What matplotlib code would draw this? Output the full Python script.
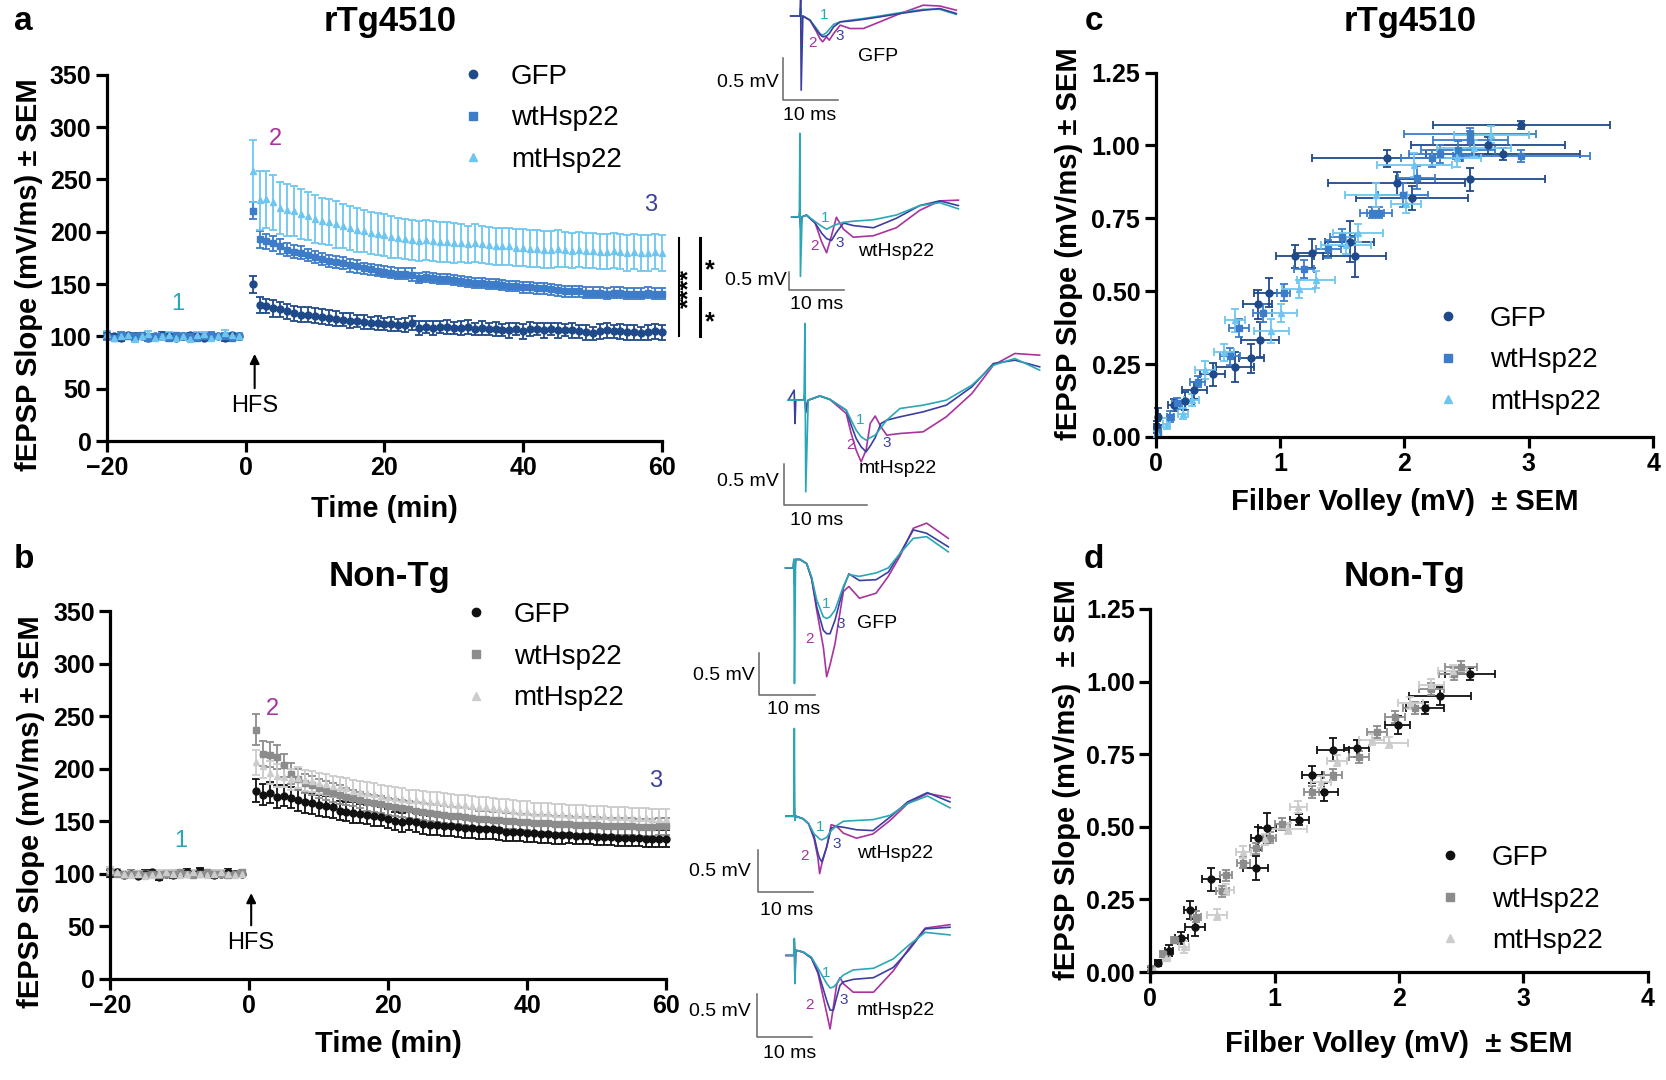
import matplotlib
matplotlib.use("Agg")
import matplotlib.pyplot as plt
from matplotlib.lines import Line2D
import numpy as np

plt.rcParams['font.family'] = ['Liberation Sans', 'DejaVu Sans']

# ---------------- DATA ----------------
groups = ["GFP", "wtHsp22", "mtHsp22"]
base_t = list(range(-20, 0))
post_t = list(range(1, 61))

# rTg4510 LTP
rtg_gfp_base = [101, 100, 99, 101, 100, 100, 99, 100, 101, 100, 99, 100, 101, 100, 99, 100, 100, 99, 101, 100]
rtg_wt_base = [100, 99, 101, 100, 100, 101, 99, 100, 100, 99, 101, 100, 100, 99, 100, 101, 100, 100, 99, 100]
rtg_mt_base = [102, 99, 100, 101, 98, 100, 102, 99, 100, 101, 99, 100, 98, 101, 102, 99, 100, 103, 101, 100]
rtg_base_err = [3, 2, 3, 2, 3, 2, 3, 2, 3, 3, 2, 3, 2, 3, 2, 3, 2, 3, 2, 3]

rtg_gfp_post = [150, 130, 129, 127, 126, 124, 122, 121, 121, 120,
                119, 118, 117, 116, 115, 115, 114, 113, 113, 112,
                112, 111, 111, 113, 108, 109, 108, 109, 109, 108,
                108, 109, 107, 108, 107, 107, 106, 106, 107, 105,
                107, 107, 106, 107, 106, 106, 106, 105, 104, 103,
                105, 106, 105, 105, 104, 104, 103, 104, 105, 104]
rtg_gfp_err = [8, 8, 7, 8, 7, 7, 7, 7, 7, 7,
               7, 7, 7, 6, 7, 6, 7, 6, 7, 6,
               7, 6, 7, 7, 7, 6, 7, 6, 7, 6,
               7, 7, 6, 7, 6, 7, 6, 7, 6, 7,
               7, 6, 7, 6, 7, 6, 7, 6, 7, 6,
               7, 7, 6, 7, 7, 7, 6, 7, 7, 7]
rtg_wt_post = [220, 193, 191, 189, 186, 183, 181, 180, 178, 176,
               174, 172, 171, 170, 168, 167, 165, 164, 163, 162,
               161, 160, 160, 159, 156, 157, 156, 155, 155, 154,
               153, 152, 151, 151, 150, 150, 149, 148, 148, 147,
               147, 146, 146, 145, 144, 143, 143, 143, 142, 142,
               142, 141, 142, 142, 141, 141, 141, 142, 141, 141]
rtg_wt_err = [8, 8, 7, 7, 7, 6, 6, 6, 6, 6,
              6, 6, 6, 6, 6, 6, 5, 5, 5, 5,
              5, 5, 5, 6, 5, 5, 5, 5, 5, 5,
              5, 5, 5, 5, 5, 5, 5, 5, 5, 5,
              5, 5, 5, 5, 5, 5, 5, 5, 5, 5,
              5, 5, 5, 5, 5, 5, 5, 5, 5, 5]
rtg_mt_post = [258, 230, 231, 228, 223, 221, 220, 217, 215, 212,
               210, 209, 207, 206, 204, 202, 201, 199, 198, 197,
               195, 194, 193, 192, 191, 192, 191, 190, 190, 189,
               189, 188, 189, 188, 187, 186, 186, 186, 185, 185,
               184, 184, 183, 183, 184, 183, 182, 183, 182, 182,
               181, 181, 182, 181, 180, 181, 180, 180, 181, 180]
rtg_mt_err = [30, 28, 27, 26, 25, 25, 24, 24, 23, 23,
              22, 22, 22, 21, 21, 21, 20, 20, 20, 20,
              20, 19, 19, 19, 19, 19, 19, 19, 19, 19,
              18, 18, 18, 18, 18, 18, 18, 18, 18, 18,
              18, 18, 18, 18, 18, 17, 17, 17, 17, 17,
              17, 17, 17, 17, 17, 17, 17, 17, 17, 17]

# Non-Tg LTP
nt_gfp_base = [100, 101, 99, 100, 98, 100, 101, 97, 100, 99, 100, 101, 100, 102, 100, 99, 100, 101, 100, 100]
nt_wt_base = [101, 100, 99, 100, 100, 99, 100, 99, 100, 100, 101, 100, 99, 100, 101, 100, 100, 99, 100, 101]
nt_mt_base = [103, 101, 100, 99, 100, 98, 99, 100, 101, 100, 99, 100, 101, 100, 99, 100, 101, 100, 99, 100]
nt_base_err = [3, 3, 2, 3, 2, 3, 2, 3, 2, 3, 2, 3, 2, 3, 2, 3, 2, 3, 2, 2]

nt_gfp_post = [179, 175, 177, 173, 174, 172, 170, 168, 167, 165,
               164, 163, 160, 159, 158, 157, 156, 155, 154, 152,
               150, 149, 150, 149, 147, 146, 146, 145, 145, 144,
               143, 143, 142, 142, 142, 141, 140, 140, 140, 139,
               139, 138, 138, 137, 137, 137, 136, 136, 136, 135,
               135, 135, 134, 134, 134, 134, 133, 133, 133, 133]
nt_gfp_err = [11, 10, 10, 11, 10, 10, 10, 10, 10, 10,
              10, 10, 9, 9, 10, 9, 9, 10, 9, 9,
              9, 9, 9, 9, 9, 9, 9, 9, 9, 9,
              9, 9, 9, 9, 9, 9, 9, 9, 9, 9,
              9, 9, 9, 9, 9, 8, 8, 8, 8, 8,
              8, 8, 8, 8, 8, 8, 8, 8, 8, 8]
nt_wt_post = [237, 214, 213, 211, 203, 195, 190, 186, 184, 181,
              179, 177, 175, 173, 172, 170, 168, 167, 166, 164,
              163, 162, 161, 160, 159, 158, 157, 156, 155, 155,
              154, 153, 152, 152, 151, 151, 150, 150, 149, 149,
              148, 148, 148, 147, 147, 147, 146, 146, 146, 146,
              145, 145, 145, 145, 145, 144, 144, 144, 145, 145]
nt_wt_err = [15, 12, 12, 11, 11, 10, 10, 9, 9, 9,
             9, 9, 9, 8, 8, 8, 8, 8, 8, 8,
             8, 8, 8, 8, 8, 8, 8, 8, 8, 8,
             8, 8, 8, 8, 8, 8, 8, 8, 8, 8,
             8, 8, 8, 8, 8, 8, 8, 8, 8, 8,
             8, 8, 8, 8, 8, 8, 8, 8, 8, 8]
nt_mt_post = [206, 202, 196, 193, 192, 190, 191, 189, 188, 186,
              185, 183, 182, 181, 179, 178, 177, 176, 174, 173,
              172, 171, 170, 170, 169, 168, 168, 167, 166, 165,
              165, 164, 163, 163, 162, 161, 161, 160, 159, 159,
              158, 158, 158, 157, 157, 156, 156, 156, 155, 155,
              155, 154, 154, 154, 153, 153, 153, 152, 152, 152]
nt_mt_err = [12, 11, 11, 11, 10, 10, 10, 10, 10, 10,
             10, 10, 10, 10, 10, 10, 10, 10, 10, 10,
             10, 10, 10, 10, 10, 10, 10, 10, 10, 10,
             10, 10, 10, 10, 10, 10, 10, 10, 10, 10,
             9, 9, 9, 9, 9, 9, 9, 9, 9, 9,
             9, 9, 9, 9, 9, 9, 9, 9, 9, 9]

# Input/output: rTg4510
c_gfp_x = [2.94, 2.53, 1.86, 2.67, 2.79, 1.94, 2.06, 1.6, 1.56, 1.26, 1.12, 0.91, 0.82, 0.84, 0.77, 0.64, 0.46, 0.31, 0.24, 0.15, 0.02, 0.01]
c_gfp_y = [1.07, 0.884, 0.956, 1.0, 0.97, 0.87, 0.82, 0.62, 0.67, 0.63, 0.62, 0.495, 0.455, 0.334, 0.27, 0.24, 0.215, 0.16, 0.123, 0.11, 0.07, 0.035]
c_gfp_xe = [0.71, 0.6, 0.6, 0.62, 0.62, 0.55, 0.45, 0.25, 0.2, 0.15, 0.15, 0.12, 0.12, 0.15, 0.1, 0.15, 0.1, 0.1, 0.07, 0.05, 0.02, 0.02]
c_gfp_ye = [0.015, 0.04, 0.03, 0.03, 0.02, 0.04, 0.04, 0.07, 0.07, 0.05, 0.04, 0.05, 0.05, 0.06, 0.05, 0.05, 0.04, 0.03, 0.03, 0.02, 0.03, 0.02]
c_wt_x = [2.94, 2.53, 2.53, 2.43, 2.29, 2.22, 1.99, 2.1, 1.8, 1.74, 1.5, 1.39, 1.19, 1.03, 0.86, 0.67, 0.6, 0.34, 0.17, 0.12, 0.02]
c_wt_y = [0.965, 1.04, 1.02, 0.985, 0.97, 0.956, 0.83, 0.89, 0.77, 0.77, 0.685, 0.645, 0.576, 0.495, 0.426, 0.374, 0.276, 0.19, 0.115, 0.07, 0.017]
c_wt_xe = [0.55, 0.53, 0.3, 0.3, 0.25, 0.25, 0.2, 0.15, 0.1, 0.1, 0.1, 0.1, 0.08, 0.05, 0.08, 0.08, 0.08, 0.06, 0.04, 0.03, 0.01]
c_wt_ye = [0.02, 0.02, 0.03, 0.03, 0.03, 0.03, 0.04, 0.04, 0.02, 0.02, 0.03, 0.03, 0.03, 0.03, 0.03, 0.03, 0.03, 0.02, 0.02, 0.02, 0.01]
c_mt_x = [2.7, 2.56, 2.42, 2.08, 2.01, 1.77, 1.63, 1.53, 1.29, 1.15, 1.01, 0.93, 0.64, 0.55, 0.4, 0.29, 0.22, 0.09, 0.01]
c_mt_y = [1.037, 0.99, 0.956, 0.933, 0.80, 0.83, 0.70, 0.657, 0.54, 0.507, 0.426, 0.363, 0.40, 0.29, 0.23, 0.127, 0.08, 0.046, 0.01]
c_mt_xe = [0.3, 0.3, 0.2, 0.3, 0.12, 0.25, 0.2, 0.2, 0.15, 0.13, 0.13, 0.14, 0.08, 0.08, 0.08, 0.06, 0.04, 0.03, 0.01]
c_mt_ye = [0.03, 0.03, 0.03, 0.04, 0.03, 0.04, 0.03, 0.03, 0.03, 0.03, 0.03, 0.04, 0.04, 0.03, 0.03, 0.02, 0.02, 0.02, 0.01]

# Input/output: Non-Tg
d_gfp_x = [2.57, 2.33, 2.21, 1.99, 1.66, 1.47, 1.4, 1.3, 1.2, 0.94, 0.87, 0.85, 0.49, 0.32, 0.36, 0.25, 0.15, 0.06, 0.01]
d_gfp_y = [1.025, 0.95, 0.91, 0.85, 0.77, 0.765, 0.62, 0.68, 0.525, 0.496, 0.46, 0.358, 0.32, 0.213, 0.154, 0.117, 0.074, 0.03, 0.006]
d_gfp_xe = [0.2, 0.25, 0.15, 0.1, 0.1, 0.13, 0.11, 0.08, 0.08, 0.07, 0.06, 0.1, 0.07, 0.05, 0.08, 0.05, 0.03, 0.02, 0.01]
d_gfp_ye = [0.02, 0.03, 0.02, 0.03, 0.03, 0.04, 0.03, 0.03, 0.02, 0.05, 0.04, 0.04, 0.04, 0.03, 0.03, 0.02, 0.02, 0.01, 0.01]
d_wt_x = [2.5, 2.44, 2.26, 2.13, 1.97, 1.82, 1.68, 1.47, 1.3, 1.06, 0.96, 0.85, 0.75, 0.61, 0.58, 0.37, 0.2, 0.1, 0.01]
d_wt_y = [1.05, 1.025, 0.975, 0.91, 0.877, 0.827, 0.74, 0.68, 0.62, 0.51, 0.463, 0.426, 0.377, 0.333, 0.278, 0.191, 0.111, 0.062, 0.012]
d_wt_xe = [0.13, 0.12, 0.1, 0.1, 0.08, 0.08, 0.08, 0.07, 0.06, 0.06, 0.05, 0.05, 0.05, 0.05, 0.05, 0.04, 0.03, 0.02, 0.01]
d_wt_ye = [0.02, 0.02, 0.02, 0.02, 0.02, 0.02, 0.02, 0.02, 0.02, 0.02, 0.02, 0.02, 0.02, 0.02, 0.02, 0.02, 0.01, 0.01, 0.01]
d_mt_x = [2.43, 2.26, 2.09, 1.92, 1.78, 1.5, 1.37, 1.19, 1.11, 0.92, 0.75, 0.61, 0.54, 0.27, 0.13, 0.03]
d_mt_y = [1.037, 0.988, 0.926, 0.79, 0.8, 0.728, 0.654, 0.568, 0.494, 0.457, 0.414, 0.284, 0.198, 0.086, 0.05, 0.006]
d_mt_xe = [0.12, 0.1, 0.1, 0.15, 0.1, 0.08, 0.08, 0.07, 0.15, 0.06, 0.06, 0.06, 0.08, 0.04, 0.03, 0.01]
d_mt_ye = [0.02, 0.02, 0.02, 0.02, 0.02, 0.02, 0.02, 0.02, 0.02, 0.02, 0.02, 0.02, 0.02, 0.02, 0.01, 0.01]

# Example fEPSP traces (time in ms, voltage in mV); 1 = baseline, 2 = post-HFS, 3 = 60 min
tr1_t = [-1.8, -0.1, 0.0, 0.1, 0.4, 1.7, 2.9, 3.5, 4.0, 4.7, 5.2, 6.0, 7.2, 9.0, 11.4, 14.4, 18.1, 22.3, 25.3, 28.3]
tr1_v1 = [0, 0, 0.1, -0.1, 0, -0.05, -0.15, -0.21, -0.23, -0.2, -0.16, -0.1, -0.07, -0.05, -0.03, 0.0, 0.04, 0.08, 0.08, 0.02]
tr1_v2 = [0, 0, 0.05, -0.05, 0, -0.05, -0.19, -0.27, -0.31, -0.25, -0.29, -0.21, -0.11, -0.15, -0.15, -0.07, 0.03, 0.13, 0.12, 0.07]
tr1_v3 = [0, 0, 0.2, -0.89, 0, -0.05, -0.17, -0.22, -0.25, -0.24, -0.21, -0.13, -0.07, -0.06, -0.04, -0.01, 0.03, 0.07, 0.09, 0.03]

tr2_t = [-1.5, -0.1, 0.0, 0.1, 0.4, 1.2, 2.8, 4.0, 4.9, 5.8, 6.7, 8.0, 9.8, 13.5, 17.7, 22.0, 25.7, 29.1]
tr2_v1 = [0, 0, 2.3, -1.64, 0, 0.05, -0.13, -0.26, -0.34, -0.27, -0.21, -0.15, -0.12, -0.08, 0.05, 0.31, 0.39, 0.22]
tr2_v2 = [0, 0, 0.1, -0.2, 0, 0.05, -0.17, -0.69, -0.99, -0.52, -0.01, -0.34, -0.56, -0.52, -0.3, 0.18, 0.44, 0.46]
tr2_v3 = [0, 0, 0.2, -0.3, 0, 0.05, -0.17, -0.45, -0.6, -0.65, -0.43, -0.17, -0.24, -0.30, -0.04, 0.31, 0.44, 0.31]

tr3_t = [-2.0, -1.3, -1.2, -1.1, -0.1, 0.0, 0.1, 0.4, 1.8, 3.0, 5.0, 5.6, 6.2, 6.8, 7.4, 7.9, 8.5, 9.2, 9.9, 11.5, 14.3, 17.1, 20.2, 22.8, 25.4, 28.4]
tr3_v1 = [0, 0, 0, 0, 0, 0.92, -1.1, 0, 0.05, 0.01, -0.12, -0.24, -0.36, -0.44, -0.48, -0.45, -0.42, -0.33, -0.24, -0.1, -0.06, 0.0, 0.18, 0.42, 0.5, 0.36]
tr3_v2 = [0, 0, 0, 0, 0, 0.05, -0.1, 0, 0.05, 0.01, -0.16, -0.4, -0.6, -0.74, -0.6, -0.28, -0.19, -0.32, -0.42, -0.4, -0.38, -0.2, 0.08, 0.42, 0.56, 0.54]
tr3_v3 = [0, 0.12, -0.28, 0, 0, 0.1, -0.15, 0, 0.05, 0.01, -0.12, -0.3, -0.46, -0.56, -0.62, -0.55, -0.45, -0.28, -0.24, -0.2, -0.14, -0.06, 0.16, 0.44, 0.48, 0.4]

tr4_t = [-1.5, -0.1, 0.0, 0.1, 0.3, 1.1, 2.3, 3.2, 4.1, 5.3, 5.9, 6.5, 7.4, 8.9, 9.9, 11.8, 14.8, 17.0, 19.1, 21.5, 23.9, 27.8]
tr4_v1 = [-0.1, -0.1, 0, -1.47, 0, 0, -0.05, -0.21, -0.48, -0.68, -0.7, -0.68, -0.6, -0.32, -0.18, -0.2, -0.16, -0.1, 0.07, 0.25, 0.27, 0.09]
tr4_v2 = [-0.1, -0.1, 0, -0.2, 0, 0, -0.05, -0.23, -0.6, -1.04, -1.39, -1.25, -1.0, -0.38, -0.32, -0.46, -0.4, -0.2, 0.04, 0.37, 0.43, 0.25]
tr4_v3 = [-0.1, -0.1, 0, -0.3, 0, 0, -0.05, -0.23, -0.56, -0.84, -0.88, -0.88, -0.72, -0.34, -0.17, -0.25, -0.24, -0.15, 0.07, 0.35, 0.31, 0.15]

tr5_t = [-1.5, -0.1, 0.0, 0.1, 0.3, 1.6, 2.6, 3.6, 4.3, 4.6, 5.0, 5.9, 6.7, 7.7, 8.9, 11.3, 14.3, 17.4, 20.6, 24.2, 28.3]
tr5_v1 = [0, 0, 1.04, -0.05, 0, -0.03, -0.09, -0.21, -0.25, -0.27, -0.28, -0.25, -0.17, -0.11, -0.06, -0.05, -0.04, 0.01, 0.15, 0.24, 0.1]
tr5_v2 = [0, 0, 0.05, -0.03, 0, -0.03, -0.09, -0.27, -0.5, -0.68, -0.56, -0.36, -0.1, -0.12, -0.2, -0.26, -0.21, -0.05, 0.15, 0.27, 0.22]
tr5_v3 = [0, 0, 0.1, -0.03, 0, -0.03, -0.09, -0.24, -0.44, -0.5, -0.54, -0.36, -0.14, -0.12, -0.13, -0.16, -0.17, -0.01, 0.17, 0.28, 0.17]

tr6_t = [-1.5, -0.1, 0.0, 0.1, 0.3, 1.6, 3.1, 4.3, 5.9, 6.5, 7.1, 7.7, 8.3, 8.9, 10.7, 14.4, 18.0, 20.8, 23.8, 28.3]
tr6_v1 = [-0.06, -0.06, 0.14, -0.39, 0, -0.02, -0.08, -0.21, -0.39, -0.44, -0.43, -0.39, -0.33, -0.29, -0.23, -0.21, -0.1, 0.06, 0.21, 0.18]
tr6_v2 = [-0.06, -0.06, 0.05, -0.3, 0, -0.02, -0.09, -0.27, -0.74, -0.92, -0.66, -0.4, -0.32, -0.39, -0.49, -0.49, -0.24, 0.02, 0.26, 0.3]
tr6_v3 = [-0.06, -0.06, 0.1, -0.1, 0, -0.02, -0.09, -0.25, -0.59, -0.7, -0.7, -0.55, -0.41, -0.37, -0.34, -0.32, -0.2, 0.0, 0.25, 0.27]

# ---------------- STYLE ----------------
W, H = 1560.0, 1011.0   # layout units
rtg_colors = ['#1f4a8a', '#3d7cc9', '#6ec6f0']
nt_colors = ['#111111', '#8c8c8c', '#cccccc']
markers = ['o', 's', '^']
C1, C2, C3 = '#2aa7b5', '#a8329f', '#3b3f9e'

fig = plt.figure(figsize=(16.66, 10.8), dpi=100)


def fbox(x0, y0, x1, y1):
    return [x0 / W, 1 - y1 / H, (x1 - x0) / W, (y1 - y0) / H]


def ftext(x, y, s, **kw):
    fig.text(x / W, 1 - y / H, s, **kw)


def style(ax):
    for s in ['top', 'right']:
        ax.spines[s].set_visible(False)
    for s in ['left', 'bottom']:
        ax.spines[s].set_linewidth(2.3)
    ax.tick_params(width=2.3, length=8, labelsize=18, pad=3, direction='out')
    for lbl in ax.get_xticklabels() + ax.get_yticklabels():
        lbl.set_fontweight('bold')


def ltp_panel(ax, series, colors, ylab_xy, xlab_y):
    for (b, be, p, pe), col, mk in zip(series, colors, markers):
        ax.errorbar(base_t + post_t, b + p, yerr=be + pe, fmt=mk, color=col,
                    ms=5, capsize=3, elinewidth=1.3, capthick=1.3, clip_on=False)
    ax.set_xlim(-20, 60)
    ax.set_ylim(0, 350)
    ax.set_xticks([-20, 0, 20, 40, 60])
    ax.set_yticks(range(0, 351, 50))
    style(ax)
    ax.set_ylabel('fEPSP Slope (mV/ms) ± SEM', fontsize=21, fontweight='bold')
    ax.yaxis.set_label_coords(*ylab_xy)
    ax.set_xlabel('Time (min)', fontsize=21, fontweight='bold')
    ax.xaxis.set_label_coords(0.5, xlab_y)


def io_panel(ax, series, colors, ylabel, ylab_xy, xlab_y):
    for (x, y, xe, ye), col, mk in zip(series, colors, markers):
        ax.errorbar(x, y, xerr=xe, yerr=ye, fmt=mk, color=col, ms=5,
                    capsize=3, elinewidth=1.3, capthick=1.3, clip_on=False)
    ax.set_xlim(0, 4)
    ax.set_ylim(0, 1.25)
    ax.set_xticks([0, 1, 2, 3, 4])
    ax.set_yticks([0, 0.25, 0.5, 0.75, 1.0, 1.25])
    ax.set_yticklabels(['0.00', '0.25', '0.50', '0.75', '1.00', '1.25'])
    style(ax)
    ax.set_ylabel(ylabel, fontsize=21, fontweight='bold')
    ax.yaxis.set_label_coords(*ylab_xy)
    ax.set_xlabel('Filber Volley (mV)  ± SEM', fontsize=21, fontweight='bold')
    ax.xaxis.set_label_coords(0.5, xlab_y)


def legend(ax, colors, anchor, pad):
    handles = [Line2D([], [], linestyle='none', marker=m, color=c, ms=6)
               for m, c in zip(markers, colors)]
    ax.legend(handles, groups, loc='upper left', bbox_to_anchor=anchor, frameon=False,
              fontsize=20, handlelength=1.0, handletextpad=pad, labelspacing=0.56,
              borderpad=0, borderaxespad=0)


# ---------------- PANEL a ----------------
ax_a = fig.add_axes(fbox(100, 70, 620, 413))
ltp_panel(ax_a, [(rtg_gfp_base, rtg_base_err, rtg_gfp_post, rtg_gfp_err),
                 (rtg_wt_base, rtg_base_err, rtg_wt_post, rtg_wt_err),
                 (rtg_mt_base, rtg_base_err, rtg_mt_post, rtg_mt_err)],
          rtg_colors, (-0.115, 0.455), -0.148)
legend(ax_a, rtg_colors, (0.635, 1.03), 0.85)
ax_a.text(-9.7, 131, '1', color=C1, fontsize=17, ha='center', va='center')
ax_a.text(4.3, 289, '2', color=C2, fontsize=17, ha='center', va='center')
ax_a.text(58.3, 226, '3', color=C3, fontsize=17, ha='center', va='center')
ax_a.annotate('', xy=(1.3, 86), xytext=(1.3, 48),
              arrowprops=dict(arrowstyle='-|>', color='black', lw=1.5, mutation_scale=14))
ax_a.text(1.3, 34, 'HFS', fontsize=17, ha='center', va='center')
# significance brackets
ax_a.plot([62.5, 62.5], [100, 194], color='black', lw=1.5, clip_on=False)
ax_a.plot([65.4, 65.4], [146, 194], color='black', lw=2.2, clip_on=False)
ax_a.plot([65.4, 65.4], [100, 137], color='black', lw=2.2, clip_on=False)
ax_a.text(63.9, 146, '****', rotation=90, fontsize=18, fontweight='bold', ha='center', va='center')
ax_a.text(66.8, 163, '*', fontsize=18, fontweight='bold', ha='center', va='center')
ax_a.text(66.8, 114, '*', fontsize=18, fontweight='bold', ha='center', va='center')

# ---------------- PANEL b ----------------
ax_b = fig.add_axes(fbox(103, 572, 624, 916))
ltp_panel(ax_b, [(nt_gfp_base, nt_base_err, nt_gfp_post, nt_gfp_err),
                 (nt_wt_base, nt_base_err, nt_wt_post, nt_wt_err),
                 (nt_mt_base, nt_base_err, nt_mt_post, nt_mt_err)],
          nt_colors, (-0.117, 0.453), -0.14)
legend(ax_b, nt_colors, (0.633, 1.024), 0.85)
ax_b.text(-9.8, 131, '1', color=C1, fontsize=17, ha='center', va='center')
ax_b.text(3.4, 257, '2', color=C2, fontsize=17, ha='center', va='center')
ax_b.text(58.4, 188, '3', color=C3, fontsize=17, ha='center', va='center')
ax_b.annotate('', xy=(0.3, 84), xytext=(0.3, 48),
              arrowprops=dict(arrowstyle='-|>', color='black', lw=1.5, mutation_scale=14))
ax_b.text(0.3, 34, 'HFS', fontsize=17, ha='center', va='center')

# ---------------- PANEL c ----------------
ax_c = fig.add_axes(fbox(1082, 68, 1548, 409))
io_panel(ax_c, [(c_gfp_x, c_gfp_y, c_gfp_xe, c_gfp_ye),
                (c_wt_x, c_wt_y, c_wt_xe, c_wt_ye),
                (c_mt_x, c_mt_y, c_mt_xe, c_mt_ye)],
         rtg_colors, 'fEPSP Slope (mV/ms) ± SEM', (-0.145, 0.53), -0.14)
legend(ax_c, rtg_colors, (0.56, 0.36), 1.0)

# ---------------- PANEL d ----------------
ax_d = fig.add_axes(fbox(1077, 570, 1543, 910))
io_panel(ax_d, [(d_gfp_x, d_gfp_y, d_gfp_xe, d_gfp_ye),
                (d_wt_x, d_wt_y, d_wt_xe, d_wt_ye),
                (d_mt_x, d_mt_y, d_mt_xe, d_mt_ye)],
         nt_colors, 'fEPSP Slope (mV/ms)  ± SEM', (-0.14, 0.53), -0.16)
legend(ax_d, nt_colors, (0.575, 0.35), 1.0)

# ---------------- titles / panel letters ----------------
for x, y, s in [(365, 20, 'rTg4510'), (365, 540, 'Non-Tg'), (1320, 20, 'rTg4510'), (1315, 540, 'Non-Tg')]:
    ftext(x, y, s, fontsize=25, fontweight='bold', ha='center', va='center')
for x, y, s in [(22, 20, 'a'), (22, 524, 'b'), (1024, 20, 'c'), (1024, 524, 'd')]:
    ftext(x, y, s, fontsize=24, fontweight='bold', ha='center', va='center')


# ---------------- TRACES ----------------
def trace_panel(t, v1, v2, v3, stim_x, base_y, pxms, pxmv, corner, name, name_xy,
                num_xy, mv_xy, ms_xy, order=(2, 3, 1)):
    y0, y1 = base_y - 150, base_y + 150
    x0, x1 = 690, 1000
    ax = fig.add_axes(fbox(x0, y0, x1, y1))
    ax.set_xlim((x0 - stim_x) / pxms, (x1 - stim_x) / pxms)
    ax.set_ylim((base_y - y1) / pxmv, (base_y - y0) / pxmv)
    ax.axis('off')
    ax.patch.set_alpha(0)
    vals = {1: (v1, C1), 2: (v2, C2), 3: (v3, C3)}
    for k in order:
        v, c = vals[k]
        ax.plot(t, v, color=c, lw=1.2, clip_on=False)
    # scale bar: 10 ms x 0.5 mV
    tb = (corner[0] - stim_x) / pxms
    vb = (base_y - corner[1]) / pxmv
    ax.plot([tb, tb, tb + 10], [vb + 0.5, vb, vb], color='#666666', lw=1.1, clip_on=False)
    ftext(mv_xy[0], mv_xy[1], '0.5 mV', fontsize=14, ha='right', va='center')
    ftext(ms_xy[0], ms_xy[1], '10 ms', fontsize=14, ha='center', va='center')
    ftext(name_xy[0], name_xy[1], name, fontsize=14, ha='left', va='center')
    for (nx, ny), s, c in zip(num_xy, ['1', '2', '3'], [C1, C2, C3]):
        ftext(nx, ny, s, fontsize=11, color=c, ha='center', va='center')


trace_panel(tr1_t, tr1_v1, tr1_v2, tr1_v3, 749.7, 15, 5.15, 78, (733.4, 93.6), 'GFP', (803.6, 53),
            [(771.8, 14), (760.9, 40), (786.5, 34)], (729, 77), (758.4, 108), order=(2, 1, 3))
trace_panel(tr2_t, tr2_v1, tr2_v2, tr2_v3, 749, 203, 5.1, 34, (739, 271.5), 'wtHsp22', (803.6, 235.6),
            [(773, 204.4), (763, 230.3), (786, 227.2)], (737, 262.8), (764.6, 285.5))
trace_panel(tr3_t, tr3_v1, tr3_v2, tr3_v3, 753.7, 374.6, 7.74, 78, (734, 472.9), 'mtHsp22', (803.6, 438.5),
            [(805.2, 393.3), (796.8, 416.7), (830.2, 415.1)], (729, 451), (764.6, 487.5))
trace_panel(tr4_t, tr4_v1, tr4_v2, tr4_v3, 743.4, 523.7, 5.2, 79, (711, 650.7), 'GFP', (802.1, 583.7),
            [(773.1, 565), (757.8, 598.6), (787.1, 583.7)], (707, 632), (742.8, 664.2))
trace_panel(tr5_t, tr5_v1, tr5_v2, tr5_v3, 743.8, 764.1, 5.15, 79, (709.4, 835), 'wtHsp22', (802.1, 799),
            [(768.4, 774.1), (753.7, 801.5), (783.4, 789.7)], (703, 816.2), (736.6, 852.1))
trace_panel(tr6_t, tr6_v1, tr6_v2, tr6_v3, 743.8, 889.6, 5.15, 80, (708.5, 970.7), 'mtHsp22', (802.1, 945.7),
            [(774, 910.8), (757.8, 941), (789.6, 936.4)], (703, 947.3), (739.7, 986.3))

fig.savefig('out.png', dpi=100)
